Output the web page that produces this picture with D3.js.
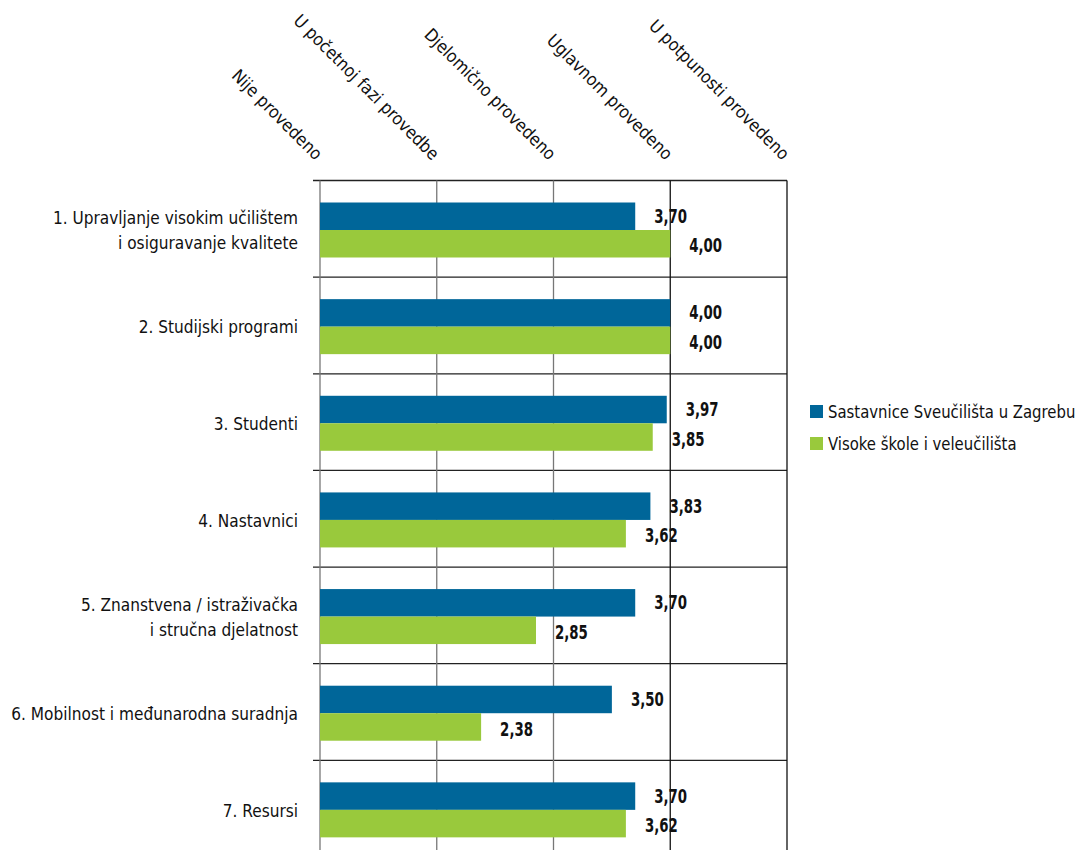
<!DOCTYPE html>
<html><head><meta charset="utf-8">
<script src="https://cdn.jsdelivr.net/npm/d3@7"></script>
<style>
html,body{margin:0;padding:0;background:#fff;}
text{font-family:"Liberation Sans Narrow","DejaVu Sans Condensed","Roboto Condensed",sans-serif;fill:#111;}
</style></head>
<body>
<svg id="c" width="1083" height="850"></svg>
<script>
const categories = [
  "1. Upravljanje visokim učilištem\ni osiguravanje kvalitete",
  "2. Studijski programi",
  "3. Studenti",
  "4. Nastavnici",
  "5. Znanstvena / istraživačka\ni stručna djelatnost",
  "6. Mobilnost i međunarodna suradnja",
  "7. Resursi"
];
const seriesNames = ["Sastavnice Sveučilišta u Zagrebu", "Visoke škole i veleučilišta"];
const sastavnice = [3.70, 4.00, 3.97, 3.83, 3.70, 3.50, 3.70];
const visokeSkole = [4.00, 4.00, 3.85, 3.62, 2.85, 2.38, 3.62];
const tickValues = [1, 2, 3, 4, 5];
const tickLabels = ["Nije provedeno", "U početnoj fazi provedbe", "Djelomično provedeno", "Uglavnom provedeno", "U potpunosti provedeno"];
const colors = ["#006699", "#99c93c"];

const svg = d3.select("#c");
const x = d3.scaleLinear().domain([1, 5]).range([320, 787]);
const y = d3.scaleBand().domain(categories).range([180.5, 857]).padding(0);
const y1 = d3.scaleBand().domain(seriesNames).range([22, 77]).padding(0);
const fmt = v => d3.format(".2f")(v).replace(".", ",");

// horizontal category boundary lines
const bounds = categories.map(c => y(c)).concat([y.range()[1]]);
svg.append("g").selectAll("line").data(bounds).join("line")
  .attr("x1", 313).attr("x2", x(5)).attr("y1", d => d).attr("y2", d => d)
  .attr("stroke", "#222").attr("stroke-width", 1.3);

// vertical grid lines
svg.append("g").selectAll("line").data(tickValues).join("line")
  .attr("x1", d => x(d)).attr("x2", d => x(d))
  .attr("y1", 180.5).attr("y2", 857)
  .attr("stroke", d => d >= 4 ? "#111" : "#777").attr("stroke-width", 1.3);

// bars
const data = categories.map((c, i) => ({c, vals: [sastavnice[i], visokeSkole[i]]}));
const g = svg.append("g").selectAll("g").data(data).join("g")
  .attr("transform", d => `translate(0,${y(d.c)})`);
g.selectAll("rect").data(d => d.vals.map((v, k) => ({v, k}))).join("rect")
  .attr("x", x(1)).attr("y", d => y1(seriesNames[d.k]))
  .attr("width", d => x(d.v) - x(1)).attr("height", y1.bandwidth())
  .attr("fill", d => colors[d.k]);
g.selectAll("text.val").data(d => d.vals.map((v, k) => ({v, k}))).join("text")
  .attr("class", "val")
  .attr("transform", d => `translate(${x(d.v) + 19},${y1(seriesNames[d.k]) + y1.bandwidth() / 2 + (d.k === 0 ? 1 : 3)}) scale(0.78,1)`)
  .attr("dominant-baseline", "middle")
  .style("font-weight", "bold").style("font-size", "19px")
  .text(d => fmt(d.v));

// category labels
const cl = svg.append("g").selectAll("text").data(categories).join("text")
  .attr("text-anchor", "end").style("font-size", "18px")
  .attr("transform", d => `translate(298,${y(d) + y.bandwidth() / 2}) scale(0.95,1)`);
cl.each(function(d) {
  const lines = d.split("\n");
  const t = d3.select(this);
  lines.forEach((ln, i) => {
    t.append("tspan").attr("x", 0)
      .attr("y", (i - (lines.length - 1) / 2) * 25 + 8)
      .text(ln);
  });
});

// top rotated tick labels
svg.append("g").selectAll("text").data(tickValues).join("text")
  .attr("text-anchor", "end").style("font-size", "17.5px")
  .attr("transform", d => `translate(${x(d) - 5},${161}) rotate(45)`)
  .text((d, i) => tickLabels[i]);

// legend
const lg = svg.append("g").selectAll("g").data(seriesNames).join("g")
  .attr("transform", (d, i) => `translate(810,${405 + i * 32})`);
lg.append("rect").attr("width", 13).attr("height", 13).attr("fill", (d, i) => colors[i]);
lg.append("text").attr("transform", "translate(18,13) scale(0.92,1)").style("font-size", "18px").text(d => d);
</script>
</body></html>
